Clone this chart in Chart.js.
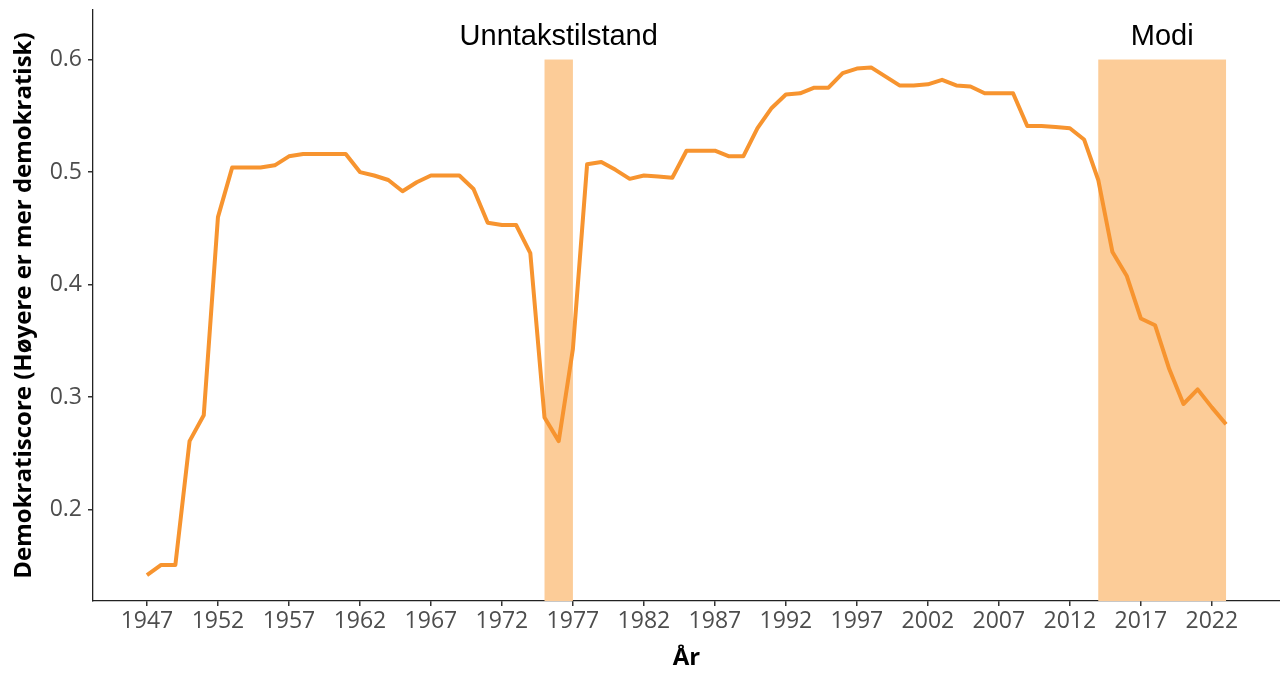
<!DOCTYPE html>
<html>
<head>
<meta charset="utf-8">
<script src="https://cdn.jsdelivr.net/npm/chart.js@4/dist/chart.umd.min.js"></script>
<style>
  html, body { margin: 0; padding: 0; background: #fff; }
  #wrap { width: 1280px; height: 673px; position: relative; }
</style>
</head>
<body>
<div id="wrap"><canvas id="c" width="1280" height="673"></canvas></div>
<script>
const years = [];
for (let y = 1947; y <= 2023; y++) years.push(y);

const scores = [
  0.142, 0.151, 0.151, 0.261, 0.284, 0.460, 0.504, 0.504, 0.504, 0.506,
  0.514, 0.516, 0.516, 0.516, 0.516, 0.500, 0.497, 0.493, 0.483, 0.491,
  0.497, 0.497, 0.497, 0.485, 0.455, 0.453, 0.453, 0.428, 0.282, 0.261,
  0.343, 0.507, 0.509, 0.502, 0.494, 0.497, 0.496, 0.495, 0.519, 0.519,
  0.519, 0.514, 0.514, 0.539, 0.557, 0.569, 0.570, 0.575, 0.575, 0.588,
  0.592, 0.593, 0.585, 0.577, 0.577, 0.578, 0.582, 0.577, 0.576, 0.570,
  0.570, 0.570, 0.541, 0.541, 0.540, 0.539, 0.529, 0.493, 0.429, 0.408,
  0.370, 0.364, 0.325, 0.294, 0.307, 0.291, 0.276
];

const xTicks = [1947, 1952, 1957, 1962, 1967, 1972, 1977, 1982, 1987, 1992, 1997, 2002, 2007, 2012, 2017, 2022];
const yTicks = [0.2, 0.3, 0.4, 0.5, 0.6];

const periodLabels = ['Unntakstilstand', 'Modi'];
const periodStart = [1975, 2014];
const periodEnd = [1977, 2023];
const periodTop = 0.6;
const labelY = 0.62;

const points = years.map((yr, i) => ({ x: yr, y: scores[i] }));

const periodsPlugin = {
  id: 'periods',
  beforeDatasetsDraw(chart) {
    const { ctx, chartArea, scales } = chart;
    ctx.save();
    ctx.fillStyle = '#FCCC98';
    for (let i = 0; i < periodStart.length; i++) {
      const x1 = scales.x.getPixelForValue(periodStart[i]);
      const x2 = scales.x.getPixelForValue(periodEnd[i]);
      const yTop = scales.y.getPixelForValue(periodTop);
      ctx.fillRect(x1, yTop, x2 - x1, chartArea.bottom - yTop);
    }
    ctx.restore();
  },
  afterDatasetsDraw(chart) {
    const { ctx, scales } = chart;
    ctx.save();
    ctx.fillStyle = '#000';
    ctx.font = '29px "Liberation Sans", Arial, sans-serif';
    ctx.textAlign = 'center';
    ctx.textBaseline = 'middle';
    for (let i = 0; i < periodLabels.length; i++) {
      const xc = scales.x.getPixelForValue((periodStart[i] + periodEnd[i]) / 2);
      const yc = scales.y.getPixelForValue(labelY);
      ctx.fillText(periodLabels[i], xc, yc);
    }
    ctx.restore();
  }
};

new Chart(document.getElementById('c'), {
  type: 'line',
  data: {
    datasets: [{
      data: points,
      borderColor: '#F7942F',
      borderWidth: 4,
      pointRadius: 0,
      tension: 0,
      borderJoinStyle: 'round',
      borderCapStyle: 'butt',
      fill: false
    }]
  },
  options: {
    responsive: false,
    animation: false,
    devicePixelRatio: 1,
    layout: { padding: { top: 10, left: 0, right: 0, bottom: 0 } },
    plugins: { legend: { display: false }, tooltip: { enabled: false } },
    scales: {
      x: {
        type: 'linear',
        min: 1943.2,
        max: 2026.8,
        afterBuildTicks(scale) { scale.ticks = xTicks.map(v => ({ value: v })); },
        afterFit(scale) { scale.height = 72; scale.paddingLeft = 0; scale.paddingRight = 0; },
        grid: { display: true, drawOnChartArea: false, drawTicks: true, tickLength: 5, color: '#333', lineWidth: 1.5 },
        border: { display: true, color: '#222', width: 1.3 },
        ticks: {
          color: '#4D4D4D',
          font: { family: '"Open Sans", "Noto Sans", sans-serif', size: 23 },
          padding: 2,
          maxRotation: 0,
          autoSkip: false,
          callback: v => String(v)
        },
        title: {
          display: true,
          text: 'År',
          color: '#000',
          font: { family: '"Open Sans", "Noto Sans", sans-serif', size: 24, weight: 'bold' },
          padding: { top: 0, bottom: 0 }
        }
      },
      y: {
        type: 'linear',
        min: 0.119,
        max: 0.644,
        afterBuildTicks(scale) { scale.ticks = yTicks.map(v => ({ value: v })); },
        afterFit(scale) { scale.width = 93; scale.paddingTop = 0; scale.paddingBottom = 0; },
        grid: { display: true, drawOnChartArea: false, drawTicks: true, tickLength: 5, color: '#333', lineWidth: 1.5 },
        border: { display: true, color: '#222', width: 1.3 },
        ticks: {
          color: '#4D4D4D',
          font: { family: '"Open Sans", "Noto Sans", sans-serif', size: 23 },
          padding: 6,
          autoSkip: false,
          callback: v => v.toFixed(1)
        },
        title: {
          display: true,
          text: 'Demokratiscore (Høyere er mer demokratisk)',
          color: '#000',
          font: { family: '"Open Sans", "Noto Sans", sans-serif', size: 24, weight: 'bold' },
          padding: { top: 10, bottom: 0 }
        }
      }
    }
  },
  plugins: [periodsPlugin]
});
</script>
</body>
</html>
